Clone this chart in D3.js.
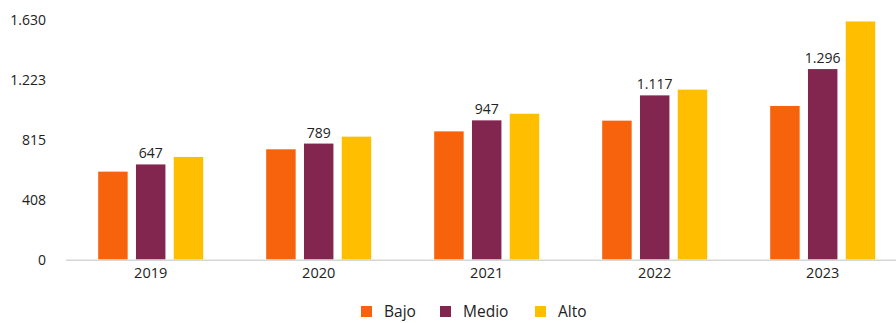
<!DOCTYPE html>
<html>
<head>
<meta charset="utf-8">
<script src="https://cdn.jsdelivr.net/npm/d3@7"></script>
<style>
  html, body { margin: 0; padding: 0; background: #fff; }
  svg { display: block; font-family: "Open Sans", "Noto Sans", sans-serif; }
</style>
</head>
<body>
<svg id="chart" width="896" height="323"></svg>
<script>
// Yearly values per level
const years = ["2019", "2020", "2021", "2022", "2023"];
const series = ["Bajo", "Medio", "Alto"];
const bajo  = [598, 750, 872, 945, 1045];
const medio = [647, 789, 947, 1117, 1296];
const alto  = [698, 836, 992, 1156, 1620];
const yTicks = [0, 408, 815, 1223, 1630];
const colors = ["#F7630C", "#82264F", "#FFBE00"];

const rows = years.map((yr, i) => ({ year: yr, Bajo: bajo[i], Medio: medio[i], Alto: alto[i] }));

const svg = d3.select("#chart");
const fmt = v => d3.format(",")(v).replace(/,/g, ".");

const y = d3.scaleLinear().domain([0, 1630]).range([259.5, 20]);
const x0 = d3.scaleBand().domain(years).range([66.7, 906.7]).paddingInner(0.33).paddingOuter(0.165);
const x1 = d3.scaleBand().domain(series).range([0, x0.bandwidth()]).paddingInner(0.22).paddingOuter(0.1);
const color = d3.scaleOrdinal().domain(series).range(colors);

// Y axis labels (no line, no ticks)
const yAxis = svg.append("g").attr("transform", "translate(46,0.5)")
  .call(d3.axisLeft(y).tickValues(yTicks).tickFormat(fmt).tickSize(0).tickPadding(0));
yAxis.select(".domain").remove();
yAxis.selectAll("text").attr("font-size", 14).attr("fill", "#222").attr("font-family", "Open Sans, sans-serif");

// Bars
const groups = svg.append("g").selectAll("g").data(rows).join("g")
  .attr("transform", d => `translate(${x0(d.year)},0)`);
groups.selectAll("rect").data(d => series.map(s => ({ key: s, value: d[s] }))).join("rect")
  .attr("x", d => x1(d.key))
  .attr("width", x1.bandwidth())
  .attr("y", d => y(d.value))
  .attr("height", d => y(0) - y(d.value))
  .attr("fill", d => color(d.key));

// Value labels over the Medio bars
groups.append("text")
  .attr("x", x1("Medio") + x1.bandwidth() / 2)
  .attr("y", d => y(d.Medio) - 6)
  .attr("text-anchor", "middle")
  .attr("font-size", 14)
  .attr("fill", "#222")
  .text(d => fmt(d.Medio));

// X axis
const xAxis = svg.append("g").attr("transform", `translate(0,${y(0) + 0.5})`)
  .call(d3.axisBottom(x0).tickSize(0).tickPadding(8));
xAxis.select(".domain").remove();
xAxis.selectAll("text").attr("font-size", 14.5).attr("fill", "#222").attr("font-family", "Open Sans, sans-serif");
svg.append("line")
  .attr("x1", 66).attr("x2", 896)
  .attr("y1", y(0) + 0.75).attr("y2", y(0) + 0.75)
  .attr("stroke", "#d6d6d6").attr("stroke-width", 1.5);

// Legend
const legendX = [361, 440, 535];
const legend = svg.append("g").selectAll("g").data(series).join("g")
  .attr("transform", (d, i) => `translate(${legendX[i]},306)`);
legend.append("rect").attr("width", 11).attr("height", 11).attr("fill", d => color(d));
legend.append("text")
  .attr("x", 23).attr("y", 5.5).attr("dy", "0.35em")
  .attr("font-size", 15.5).attr("fill", "#222")
  .text(d => d);
</script>
</body>
</html>
